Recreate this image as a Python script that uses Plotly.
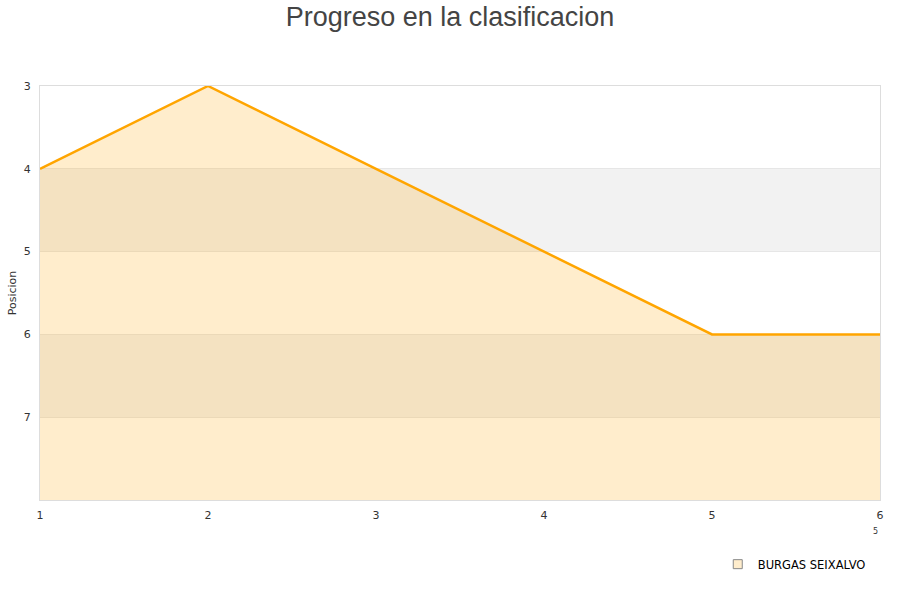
import plotly.graph_objects as go

jornadas = [1, 2, 3, 4, 5, 6]
posiciones = [4, 3, 4, 5, 6, 6]
equipo = "BURGAS SEIXALVO"
peor_posicion = 8
ticks_y = [3, 4, 5, 6, 7]

naranja = "#FFA500"
relleno = "rgba(255,165,0,0.2)"

fig = go.Figure()

# linea base para rellenar hasta el fondo del eje
fig.add_trace(go.Scatter(x=jornadas, y=[peor_posicion] * len(jornadas), mode="lines",
                         line=dict(width=0), showlegend=False, hoverinfo="skip"))
fig.add_trace(go.Scatter(x=jornadas, y=posiciones, mode="lines", fill="tonexty",
                         fillcolor=relleno, line=dict(color=naranja, width=2.5),
                         name=equipo, showlegend=False))
# entrada de leyenda con cuadrado
fig.add_trace(go.Scatter(x=[None], y=[None], mode="markers", name=equipo,
                         marker=dict(symbol="square", size=9, color="#FFEDCC",
                                     line=dict(color="#888888", width=1))))

# bandas alternas
for y0 in [4, 6]:
    fig.add_hrect(y0=y0, y1=y0 + 1, fillcolor="#f2f2f2", line_width=0, layer="below")

fig.add_annotation(text="5", x=1.0, y=-0.092, xref="paper", yref="paper", showarrow=False,
                   font=dict(size=8, color="#333"))

fig.update_layout(
    width=900, height=600,
    paper_bgcolor="white", plot_bgcolor="white",
    margin=dict(l=40, r=20, t=86, b=100),
    title=dict(text="Progreso en la clasificacion", x=0.5, xanchor="center", y=0.973,
               yanchor="middle", font=dict(family="Liberation Sans, Arial", size=27, color="#444")),
    font=dict(family="DejaVu Sans", size=11, color="#444"),
    legend=dict(orientation="h", x=0.989, xanchor="right", y=-0.155, yanchor="middle",
                font=dict(family="DejaVu Sans", size=11.5, color="#000")),
    showlegend=True,
)
fig.update_xaxes(range=[1, 6], tickvals=jornadas, showgrid=False, zeroline=False,
                 showline=True, linecolor="#dddddd", mirror=True, ticks="",
                 ticklabelstandoff=5, tickfont=dict(size=11, color="#333"))
fig.update_yaxes(range=[peor_posicion, 3], tickvals=ticks_y, showgrid=True, gridcolor="#e6e6e6",
                 zeroline=False, showline=True, linecolor="#dddddd", mirror=True, ticks="",
                 automargin=False, ticklabelstandoff=6, tickfont=dict(size=11, color="#333"),
                 title=dict(text="Posicion", font=dict(size=11, color="#333"), standoff=4))

# quitar el margen del body para que la figura quede en la esquina
fig.write_html("out.html", config={"displayModeBar": False},
               post_script="document.body.style.margin='0';")
